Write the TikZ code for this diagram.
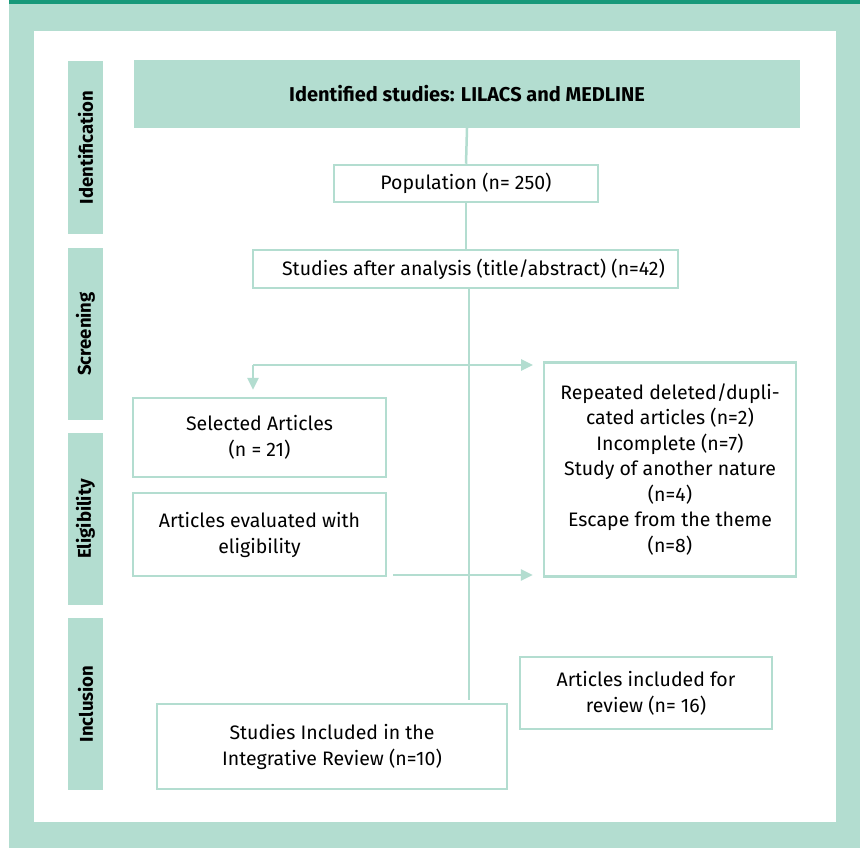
\documentclass[tikz,border=0pt]{standalone}
\usepackage{fontspec}
\setmainfont{Fira Sans}
\usetikzlibrary{arrows.meta,calc}
\definecolor{lgreen}{HTML}{B3DDD0}
\definecolor{dgreen}{HTML}{17997A}
\tikzset{
  box/.style={draw=lgreen,line width=2.5pt,fill=white,align=center,inner sep=2pt,font=\fontsize{19.5}{26}\selectfont},
  side/.style={fill=lgreen,minimum height=35pt,inner sep=0pt,font=\fontsize{18.5}{20}\selectfont\bfseries,rotate=90},
  conn/.style={draw=lgreen,line width=2.5pt},
  arr/.style={conn,-{Triangle[length=12pt,width=11pt]}},
}
\begin{document}
\begin{tikzpicture}[x=1pt,y=-1pt]
\useasboundingbox (0,0) rectangle (860,848);
% background panel
\fill[lgreen] (9,0) rectangle (860,848);
\fill[dgreen] (9,0) rectangle (860,4);
\fill[white] (34,31) rectangle (836,822);
% side labels
\node[side,minimum width=173pt] (sid) at (85.5,147.5) {Identification};
\node[side,minimum width=172pt] (sscr) at (85.5,334) {Screening};
\node[side,minimum width=172pt] (selg) at (85.5,519) {Eligibility};
\node[side,minimum width=172pt] (sinc) at (85.5,704) {Inclusion};
% boxes
\node[fill=lgreen,minimum width=666pt,minimum height=68pt,inner sep=0pt,font=\fontsize{20}{22}\selectfont\bfseries] (top) at (467,94) {Identified studies: LILACS and MEDLINE};
\node[box,minimum width=264pt,minimum height=37pt] (pop) at (466,183.5) {Population (n= 250)};
\node[box,minimum width=425pt,minimum height=38pt] (stu) at (465.5,269) {\hspace{16pt}Studies after analysis (title/abstract) (n=42)};
\node[box,minimum width=253pt,minimum height=79pt] (sel) at (259.5,437.5) {Selected Articles\\(n = 21)};
\node[box,minimum width=253pt,minimum height=83pt] (eval) at (259.5,534.5) {Articles evaluated with\\eligibility};
\node[box,minimum width=252pt,minimum height=214pt,font=\fontsize{19.5}{25.5}\selectfont] (rep) at (670,469.5) {Repeated deleted/dupli-\\cated articles (n=2)\\Incomplete (n=7)\\Study of another nature\\(n=4)\\Escape from the theme\\(n=8)};
\node[box,minimum width=252pt,minimum height=72pt] (inc) at (646,693) {Articles included for\\review (n= 16)};
\node[box,minimum width=350pt,minimum height=85pt] (fin) at (332,746.5) {Studies Included in the\\Integrative Review (n=10)};
% connectors
\draw[conn] (top.south) -- (pop.north);
\draw[conn] (pop.south) -- (pop.south |- stu.north);
\coordinate (vt) at (469,289);
\coordinate (vb) at (469,700);
\draw[conn] (vt) -- (vb);
\coordinate (cl) at (253,365);
\coordinate (cr) at (533,365);
\draw[arr] (cl) -- (cr);
\draw[arr,shorten >=7pt] (cl) -- (cl |- sel.north);
\coordinate (ea) at (393,575);
\draw[arr,shorten >=10pt] (ea) -- (rep.west |- ea);
\end{tikzpicture}
\end{document}
